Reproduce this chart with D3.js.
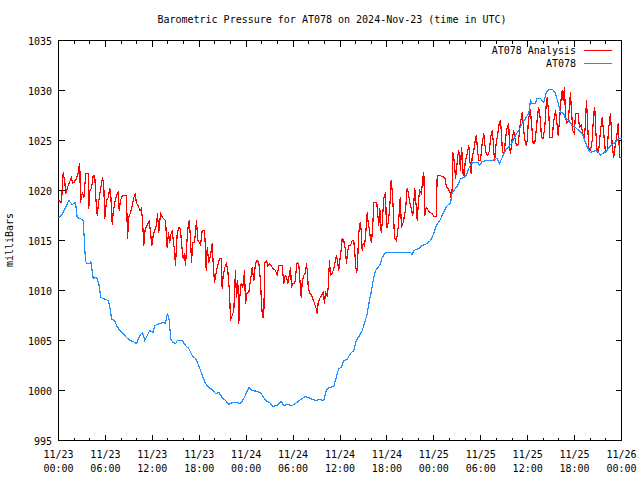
<!DOCTYPE html>
<html><head><meta charset="utf-8">
<script src="https://cdn.jsdelivr.net/npm/d3@7/dist/d3.min.js"></script>
<style>
body{margin:0;background:#fff}
text{font-family:"DejaVu Sans Mono","Liberation Mono",monospace;font-size:10px;fill:#000}
</style>
</head><body>
<svg id="chart" width="640" height="480"></svg>
<script>
const chartTitle = "Barometric Pressure for AT078 on 2024-Nov-23 (time in UTC)";
const yLabel = "milliBars";
const seriesNames = ["AT078 Analysis", "AT078"];

// hours since 2024-11-23 00:00 UTC
const analysisHours = [0,0.38,0.60,0.81,0.93,1.11,1.24,1.66,1.79,1.96,2.30,2.52,2.65,2.72,2.81,3.07,3.24,3.49,3.80,3.87,4.00,4.22,4.44,4.64,4.77,4.95,5.08,5.28,5.50,5.63,5.79,5.92,6.14,6.36,6.56,6.69,6.87,6.99,7.20,7.42,7.63,7.76,7.93,8.15,8.70,8.82,8.99,9.21,9.42,9.63,9.81,9.97,10.19,10.40,10.61,10.74,10.91,11.09,11.34,11.60,11.77,11.93,12.11,12.31,12.53,12.66,12.83,13.04,13.30,13.68,13.90,14.07,14.23,14.32,14.54,14.83,14.96,15.18,15.38,15.60,15.73,15.95,16.11,16.24,16.46,16.59,16.71,16.88,17.01,17.17,17.39,17.52,17.65,17.81,18.03,18.16,18.38,18.67,18.80,18.89,19.02,19.22,19.44,19.65,19.78,19.95,20.17,20.37,20.59,20.81,20.93,21.06,21.27,21.48,21.65,21.87,22.00,22.21,22.42,22.63,22.76,22.93,23.06,23.18,23.36,23.57,23.79,23.91,24.13,24.34,24.55,24.77,24.98,25.19,25.41,25.61,25.83,25.96,26.09,26.25,26.38,26.60,26.77,27.02,27.33,27.75,27.97,28.17,28.61,28.81,28.99,29.16,29.32,29.54,29.67,29.80,29.96,30.22,30.40,30.52,30.73,30.82,30.95,31.04,31.16,31.37,31.59,31.71,31.84,31.93,32.10,32.32,32.52,32.74,32.95,33.08,33.21,33.41,33.63,33.85,34.02,34.14,34.36,34.49,34.65,34.78,35.00,35.21,35.42,35.55,35.72,35.84,36.02,36.19,36.28,36.48,36.70,36.83,37.00,37.12,37.34,37.56,37.76,37.89,38.02,38.15,38.27,38.40,38.58,38.71,38.84,38.96,39.13,39.26,39.48,39.60,39.77,39.90,40.03,40.19,40.32,40.70,40.88,40.96,41.09,41.27,41.39,41.60,41.82,41.94,42.07,42.24,42.42,42.54,42.67,42.80,42.97,43.22,43.44,43.70,43.86,44.08,44.37,44.59,44.72,44.88,45.01,45.31,45.43,45.56,45.69,45.87,46.00,46.17,46.42,46.59,46.72,46.84,47.02,47.48,47.79,47.99,48.30,48.43,48.76,49.07,49.40,49.62,49.83,50.13,50.22,50.35,50.42,50.55,50.68,50.77,50.93,51.06,51.19,51.32,51.41,51.53,51.66,51.75,51.88,52.01,52.26,52.47,52.60,52.78,52.90,53.11,53.33,53.45,53.58,53.75,53.96,54.18,54.39,54.51,54.69,54.90,55.12,55.24,55.46,55.59,55.67,55.79,55.97,56.18,56.36,56.52,56.65,56.78,57.03,57.16,57.38,57.58,57.67,57.80,58.02,58.22,58.35,58.57,58.79,58.99,59.30,59.43,59.59,59.81,59.94,60.07,60.23,60.36,60.49,60.70,60.91,61.09,61.29,61.42,61.64,61.76,61.98,62.19,62.36,62.49,62.70,62.83,63.13,63.34,63.56,63.77,63.90,64.10,64.28,64.41,64.54,64.71,64.83,64.96,65.18,65.35,65.47,65.60,65.77,65.98,66.11,66.45,66.62,66.84,67.04,67.26,67.39,67.52,67.65,67.81,68.03,68.25,68.45,68.58,68.71,68.89,69.09,69.31,69.53,69.73,69.95,70.16,70.37,70.59,70.81,71.01,71.23,71.44,71.57,71.65,71.78,72.0];
const analysisValues = [1019.0,1018.8,1021.8,1020.8,1019.7,1020.2,1020.5,1021.3,1020.7,1020.8,1021.2,1021.8,1022.5,1022.7,1018.8,1019.8,1019.3,1021.7,1021.7,1018.2,1020.0,1020.2,1021.5,1021.5,1019.3,1017.5,1018.5,1019.7,1020.7,1021.3,1020.5,1017.2,1019.0,1019.3,1020.2,1019.5,1016.6,1017.8,1018.8,1019.5,1019.8,1018.0,1019.0,1019.5,1019.5,1015.2,1017.3,1017.8,1018.5,1019.3,1019.7,1018.7,1018.5,1018.0,1018.2,1017.0,1014.5,1016.2,1016.5,1017.0,1015.8,1014.5,1015.5,1016.0,1016.5,1017.7,1015.8,1017.7,1017.3,1017.0,1014.3,1015.8,1014.8,1015.5,1016.0,1014.0,1012.5,1015.7,1016.3,1016.2,1014.7,1013.2,1013.7,1012.5,1015.3,1016.5,1017.0,1015.3,1012.8,1014.8,1014.8,1015.8,1017.0,1015.0,1014.8,1014.5,1016.0,1016.0,1014.2,1012.0,1014.3,1012.8,1013.5,1014.7,1012.8,1010.8,1011.8,1012.5,1013.2,1013.2,1010.2,1011.5,1012.3,1012.7,1012.0,1009.8,1007.0,1007.5,1008.0,1012.0,1009.3,1011.0,1006.7,1009.3,1010.7,1010.3,1012.0,1008.7,1009.8,1009.8,1011.0,1012.3,1011.0,1012.7,1013.0,1012.8,1011.0,1008.7,1007.3,1007.3,1012.8,1013.0,1012.5,1012.7,1012.3,1012.0,1011.5,1012.5,1012.5,1010.7,1011.5,1011.3,1010.7,1011.7,1012.3,1010.3,1010.7,1010.7,1012.0,1012.8,1012.7,1011.5,1010.3,1009.3,1010.8,1011.5,1011.8,1012.7,1011.8,1010.5,1009.7,1009.6,1009.2,1008.7,1008.2,1007.7,1008.8,1009.2,1009.5,1009.8,1008.7,1009.8,1009.5,1010.3,1013.0,1011.5,1011.7,1012.2,1013.0,1013.5,1012.7,1012.0,1013.3,1014.3,1015.2,1015.0,1014.0,1012.7,1014.0,1014.5,1014.5,1015.0,1015.0,1013.8,1012.3,1011.8,1013.3,1015.8,1016.8,1016.0,1014.0,1014.7,1014.5,1015.3,1017.8,1016.8,1016.0,1015.2,1014.8,1016.5,1018.8,1018.8,1017.2,1016.5,1018.2,1015.8,1016.7,1019.2,1019.8,1016.3,1016.3,1017.3,1019.0,1021.0,1020.0,1018.3,1015.3,1015.0,1016.3,1019.3,1016.3,1016.8,1018.0,1020.2,1019.8,1019.0,1018.5,1017.5,1018.7,1020.2,1019.0,1017.0,1018.5,1020.0,1019.7,1021.3,1021.8,1017.5,1018.3,1017.8,1017.7,1017.4,1017.4,1021.5,1021.5,1021.4,1021.3,1020.3,1020.2,1019.7,1019.2,1020.2,1023.8,1023.3,1022.2,1021.2,1022.3,1023.5,1024.0,1023.0,1022.0,1024.3,1023.3,1021.5,1021.5,1022.8,1023.7,1024.5,1023.0,1021.7,1023.3,1024.0,1025.2,1025.5,1024.0,1023.0,1023.0,1024.7,1025.7,1024.7,1023.7,1023.5,1024.0,1025.2,1026.0,1025.0,1023.8,1023.0,1024.7,1025.7,1026.7,1027.0,1025.7,1023.8,1023.8,1025.2,1026.3,1026.7,1024.5,1023.7,1025.2,1026.0,1025.3,1024.5,1024.6,1026.3,1027.8,1026.7,1025.2,1024.5,1025.0,1026.7,1027.8,1028.0,1026.7,1024.7,1024.7,1026.0,1027.7,1028.3,1027.0,1025.3,1025.2,1026.3,1028.5,1029.3,1027.7,1025.3,1025.3,1027.0,1028.0,1026.5,1025.5,1027.3,1029.2,1030.0,1029.0,1030.3,1027.7,1026.7,1026.9,1028.5,1029.8,1028.0,1026.0,1025.7,1027.7,1027.7,1026.3,1026.5,1025.7,1025.2,1026.7,1029.0,1027.0,1024.2,1024.0,1025.0,1027.8,1028.3,1026.0,1023.8,1024.0,1026.0,1027.3,1025.7,1023.8,1024.0,1026.3,1027.7,1024.5,1023.3,1024.7,1025.7,1026.7,1025.2,1023.3,1023.3];

const stationHours = [0,0.38,1.32,1.75,2.17,2.39,2.81,3.16,3.29,3.45,3.58,4.00,4.13,4.26,4.44,4.86,5.15,5.41,5.72,6.36,6.65,6.78,7.20,7.42,7.84,8.27,8.70,9.12,9.55,9.97,10.40,10.74,11.04,11.68,12.11,12.31,12.95,13.39,13.68,13.94,14.16,14.36,14.67,15.00,15.18,15.82,16.24,16.66,17.10,17.52,17.94,18.38,18.80,19.22,19.65,20.08,20.50,20.93,21.36,21.78,22.21,22.85,23.27,23.70,24.34,24.77,25.49,25.92,26.47,26.98,27.40,27.97,28.48,28.81,29.25,29.89,30.31,30.95,31.59,32.23,32.86,33.29,33.93,34.23,34.57,35.20,35.51,35.84,36.19,36.48,36.92,37.34,37.76,38.07,38.49,38.84,39.17,39.48,39.77,40.03,40.24,40.54,40.88,41.18,41.39,41.82,42.67,43.52,44.28,45.01,45.23,45.43,46.07,46.51,47.15,47.57,47.99,48.34,48.76,49.19,49.71,50.13,50.35,50.77,51.19,51.41,51.83,52.14,52.47,52.78,53.11,53.62,53.88,54.18,54.82,55.46,56.10,56.39,56.74,57.16,57.58,58.02,58.44,58.86,59.30,59.72,60.14,60.36,60.58,61.00,61.21,61.64,62.06,62.37,62.70,63.21,63.56,63.98,64.20,64.62,64.83,65.26,65.69,66.11,66.54,66.97,67.39,67.81,68.03,68.67,69.09,69.31,69.73,70.16,70.59,71.23,71.65,72.0];
const stationValues = [1017.3,1017.5,1019.0,1018.6,1018.8,1017.3,1017.2,1017.0,1015.2,1013.0,1012.7,1012.7,1012.9,1012.2,1011.2,1011.3,1010.7,1009.3,1009.2,1009.0,1008.0,1007.1,1007.0,1006.5,1006.0,1005.7,1005.3,1005.0,1004.9,1004.7,1005.5,1005.8,1005.0,1006.0,1005.8,1006.5,1006.7,1006.8,1006.7,1007.7,1007.0,1005.1,1004.8,1004.7,1005.0,1005.0,1004.5,1004.2,1003.5,1003.2,1002.5,1001.5,1000.7,1000.3,1000.1,999.7,999.8,999.3,999.0,998.6,998.8,998.8,998.7,999.2,1000.3,1000.0,999.9,999.7,999.0,998.8,998.4,998.5,998.9,998.5,998.6,998.5,998.7,999.1,999.4,999.2,999.0,999.1,999.0,1000.0,1000.3,1000.4,1001.3,1002.2,1002.3,1003.0,1003.1,1003.7,1004.0,1005.0,1005.5,1006.0,1006.8,1007.7,1009.0,1010.0,1011.0,1012.0,1012.3,1012.7,1013.3,1013.8,1013.8,1013.8,1013.8,1013.8,1013.6,1014.0,1014.2,1014.5,1014.7,1015.0,1015.7,1016.5,1017.0,1017.7,1018.5,1018.7,1019.8,1020.2,1020.7,1021.2,1021.3,1021.5,1022.2,1022.7,1022.8,1022.8,1022.5,1022.9,1023.0,1023.0,1023.2,1022.7,1023.3,1024.0,1024.4,1024.8,1025.5,1026.0,1026.7,1027.2,1027.7,1029.0,1028.7,1028.7,1029.2,1029.2,1028.8,1029.8,1030.1,1030.1,1029.7,1028.5,1027.8,1027.7,1027.2,1027.0,1026.5,1026.3,1026.0,1025.7,1024.8,1024.0,1023.8,1024.0,1023.8,1023.5,1023.8,1024.0,1024.5,1024.8,1025.2,1025.2];

const yTicks = [995,1000,1005,1010,1015,1020,1025,1030,1035];
const xTickHours = [0,6,12,18,24,30,36,42,48,54,60,66,72];
const xTickDates = ["11/23","11/23","11/23","11/23","11/24","11/24","11/24","11/24","11/25","11/25","11/25","11/25","11/26"];
const xTickTimes = ["00:00","06:00","12:00","18:00","00:00","06:00","12:00","18:00","00:00","06:00","12:00","18:00","00:00"];
const xMinorHours = d3.range(0, 73, 2);
const colors = ["#ff0000", "#1e8fff"];

const svg = d3.select("#chart");
const L = 58.5, R = 621.5, T = 40.5, B = 440.5;
const x = d3.scaleLinear().domain([0, 72]).range([L, R]);
const y = d3.scaleLinear().domain([995, 1035]).range([B, T]);

// title
svg.append("text").attr("x", 332).attr("y", 23).attr("text-anchor", "middle").text(chartTitle);
// y label
svg.append("text").attr("transform", "translate(13,240) rotate(-90)").attr("text-anchor", "middle").text(yLabel);

const g = svg.append("g").attr("shape-rendering", "crispEdges");
// minor x ticks (bottom & top)
xMinorHours.forEach(h => {
  g.append("line").attr("x1", x(h)).attr("x2", x(h)).attr("y1", B).attr("y2", B - 3).attr("stroke", "#000");
  g.append("line").attr("x1", x(h)).attr("x2", x(h)).attr("y1", T).attr("y2", T + 3).attr("stroke", "#000");
});
xTickHours.forEach((h, i) => {
  g.append("line").attr("x1", x(h)).attr("x2", x(h)).attr("y1", B).attr("y2", B - 6).attr("stroke", "#000");
  g.append("line").attr("x1", x(h)).attr("x2", x(h)).attr("y1", T).attr("y2", T + 6).attr("stroke", "#000");
  svg.append("text").attr("x", x(h)).attr("y", 458).attr("text-anchor", "middle").text(xTickDates[i]);
  svg.append("text").attr("x", x(h)).attr("y", 472).attr("text-anchor", "middle").text(xTickTimes[i]);
});
yTicks.forEach(v => {
  g.append("line").attr("x1", L).attr("x2", L + 6).attr("y1", y(v)).attr("y2", y(v)).attr("stroke", "#000");
  g.append("line").attr("x1", R).attr("x2", R - 6).attr("y1", y(v)).attr("y2", y(v)).attr("stroke", "#000");
  svg.append("text").attr("x", 52).attr("y", y(v) + 4).attr("text-anchor", "end").text(v);
});

// series
const line = d3.line().x(d => x(d[0])).y(d => y(d[1]));
const analysis = analysisHours.map((h, i) => [h, analysisValues[i]]);
const station = stationHours.map((h, i) => [h, stationValues[i]]);
svg.append("path").datum(analysis).attr("d", line).attr("fill", "none").attr("stroke", colors[0]).attr("stroke-width", 1.2).attr("shape-rendering", "crispEdges");
svg.append("path").datum(station).attr("d", line).attr("fill", "none").attr("stroke", colors[1]).attr("stroke-width", 1.2).attr("shape-rendering", "crispEdges");

// frame
g.append("rect").attr("x", L).attr("y", T).attr("width", R - L).attr("height", B - T).attr("fill", "none").attr("stroke", "#000");

// legend
seriesNames.forEach((n, i) => {
  const ly = 50 + i * 13;
  svg.append("text").attr("x", 576).attr("y", ly + 4).attr("text-anchor", "end").text(n);
  g.append("line").attr("x1", 584).attr("x2", 612).attr("y1", ly + 0.5).attr("y2", ly + 0.5).attr("stroke", colors[i]);
});
</script>
</body></html>
